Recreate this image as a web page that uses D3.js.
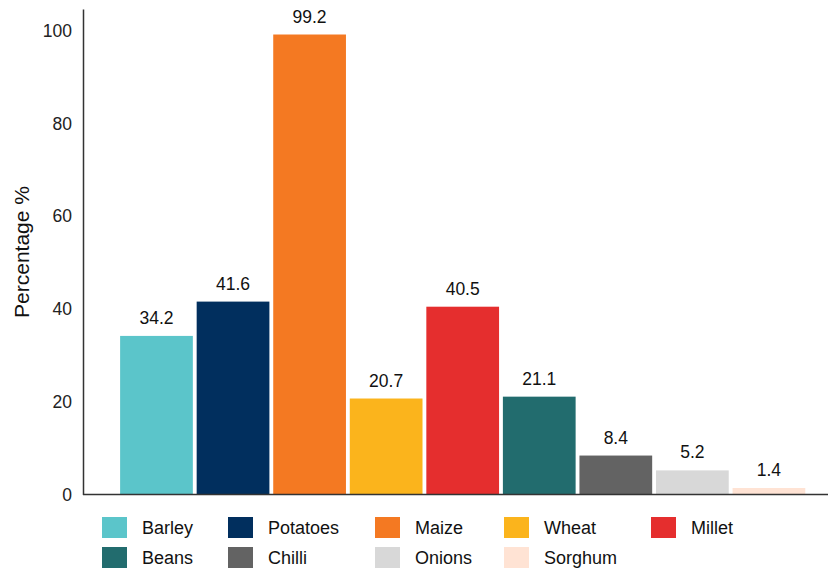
<!DOCTYPE html>
<html><head><meta charset="utf-8">
<script src="https://cdn.jsdelivr.net/npm/d3@7/dist/d3.min.js"></script>
<style>body{margin:0;background:#fff;} text{font-family:"Liberation Sans",Arial,sans-serif;}</style>
</head><body>
<svg id="c" width="830" height="569"></svg>
<script>
const categories = ["Barley","Potatoes","Maize","Wheat","Millet","Beans","Chilli","Onions","Sorghum"];
const values = [34.2, 41.6, 99.2, 20.7, 40.5, 21.1, 8.4, 5.2, 1.4];
const colors = ["#5BC5CA","#012F5E","#F47922","#FBB41C","#E52E2E","#226C6E","#636363","#D8D8D8","#FFE3D4"];
const yTicks = [0,20,40,60,80,100];

const svg = d3.select("#c");
const x = d3.scaleBand().domain(categories).range([118.2, 807.2]).paddingInner(0.05).paddingOuter(0.025);
const y = d3.scaleLinear().domain([0, 104.7]).range([494.5, 9]);

svg.selectAll("rect.bar").data(categories).enter().append("rect")
  .attr("class","bar")
  .attr("x", d => x(d)).attr("width", x.bandwidth())
  .attr("y", (d,i) => y(values[i])).attr("height", (d,i) => y(0) - y(values[i]))
  .attr("fill", (d,i) => colors[i]);

svg.selectAll("text.val").data(categories).enter().append("text")
  .attr("x", d => x(d) + x.bandwidth()/2)
  .attr("y", (d,i) => y(values[i]) - 12)
  .attr("text-anchor","middle").attr("font-size",17.5).attr("fill","#111")
  .text((d,i) => values[i].toFixed(1));

// axes
const yAxis = svg.append("g").attr("transform","translate(83,0)")
  .call(d3.axisLeft(y).tickValues(yTicks).tickSize(0).tickPadding(11));
yAxis.select(".domain").attr("stroke","#333").attr("stroke-width",1.5);
yAxis.selectAll("text").attr("font-size",17.5).attr("fill","#222").style("font-family","Liberation Sans, Arial, sans-serif");

svg.append("line").attr("x1",83).attr("x2",828).attr("y1",y(0)).attr("y2",y(0))
  .attr("stroke","#333").attr("stroke-width",1.5);

svg.append("text").attr("transform","translate(29,252) rotate(-90)")
  .attr("text-anchor","middle").attr("font-size",21).attr("fill","#111").text("Percentage %");

// legend
const colX = [102, 228, 375, 504, 651];
const rowY = [517, 547];
const lg = svg.selectAll("g.lg").data(categories).enter().append("g")
  .attr("transform",(d,i) => `translate(${colX[i%5]},${rowY[Math.floor(i/5)]})`);
lg.append("rect").attr("width",25).attr("height",21).attr("fill",(d,i)=>colors[i]);
lg.append("text").attr("x",40).attr("y",17).attr("font-size",18).attr("fill","#111").text(d=>d);
</script>
</body></html>
